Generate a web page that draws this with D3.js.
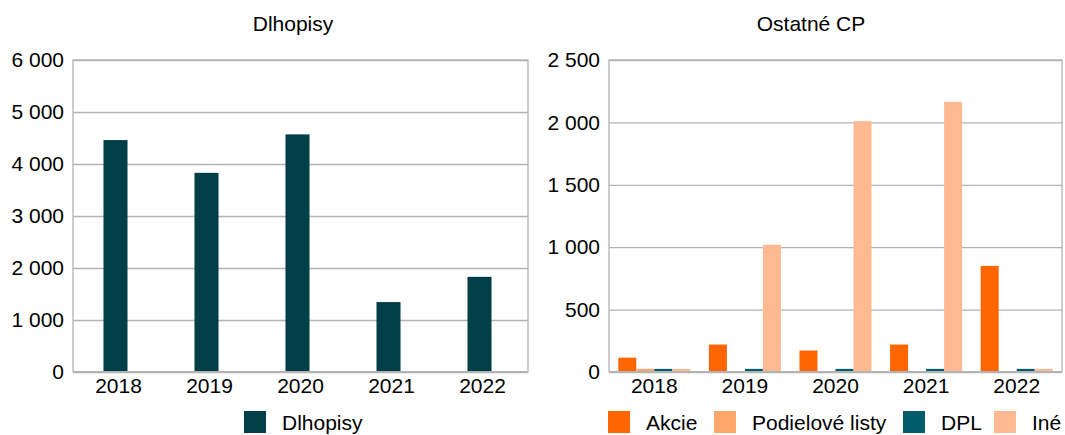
<!DOCTYPE html>
<html>
<head>
<meta charset="utf-8">
<script src="https://cdn.jsdelivr.net/npm/d3@7"></script>
<style>
  body { margin: 0; background: #fff; }
  text { font-family: "Liberation Sans", Arial, sans-serif; fill: #000; }
  .grid line { stroke: #b3b3b3; stroke-width: 1.3; }
  .grid path { display: none; }
  .axis path, .axis line { display: none; }
  .axis text { font-size: 21px; }
</style>
</head>
<body>
<svg id="chart" width="1065" height="435"></svg>
<script>
// data
var years = ["2018", "2019", "2020", "2021", "2022"];
var dlhopisy = [4460, 3830, 4570, 1345, 1830];

var akcie = [115, 220, 172, 220, 850];
var podielove = [25, 0, 0, 0, 0];
var dpl = [25, 25, 25, 25, 25];
var ine = [25, 1020, 2010, 2165, 25];

var leftTicks = [0, 1000, 2000, 3000, 4000, 5000, 6000];
var rightTicks = [0, 500, 1000, 1500, 2000, 2500];

var rightSeries = [
  { name: "Akcie", values: akcie, color: "#ff6600" },
  { name: "Podielové listy", values: podielove, color: "#ffa66a" },
  { name: "DPL", values: dpl, color: "#005b6b" },
  { name: "Iné", values: ine, color: "#ffb990" }
];

var locale = d3.formatLocale({ decimal: ",", thousands: " ", grouping: [3], currency: ["", ""] });
var fmt = locale.format(",");

var svg = d3.select("#chart");

// draws the frame, grid and y axis of one panel
function drawFrame(g, w, h, y, ticks) {
  g.append("g")
    .attr("class", "grid")
    .call(d3.axisLeft(y).tickValues(ticks).tickSize(-w).tickFormat(""));

  g.append("rect")
    .attr("width", w)
    .attr("height", h)
    .attr("fill", "none")
    .attr("stroke", "#b3b3b3")
    .attr("stroke-width", 1.3);

  g.append("g")
    .attr("class", "axis")
    .call(d3.axisLeft(y).tickValues(ticks).tickSize(0).tickPadding(9).tickFormat(fmt));
}

// ---- left panel: Dlhopisy
var lm = { left: 73, top: 60 };
var lw = 455, lh = 312;
var left = svg.append("g").attr("transform", `translate(${lm.left}, ${lm.top})`);

var xL = d3.scaleBand().domain(years).range([0, lw]).paddingInner(0.736).paddingOuter(0.368);
var yL = d3.scaleLinear().domain([0, 6000]).range([lh, 0]);

drawFrame(left, lw, lh, yL, leftTicks);

left.selectAll(".bar")
  .data(dlhopisy)
  .enter()
  .append("rect")
  .attr("class", "bar")
  .attr("x", (d, i) => xL(years[i]) - 3)
  .attr("y", d => yL(d))
  .attr("width", xL.bandwidth())
  .attr("height", d => lh - yL(d))
  .attr("fill", "#003f47");

left.append("g")
  .attr("class", "axis")
  .attr("transform", `translate(0, ${lh})`)
  .call(d3.axisBottom(xL).tickSize(0).tickPadding(6));

left.append("path")
  .attr("d", `M0,${lh}H${lw}`)
  .attr("stroke", "#b3b3b3")
  .attr("stroke-width", 2);

svg.append("text")
  .attr("x", 293)
  .attr("y", 31)
  .attr("text-anchor", "middle")
  .style("font-size", "21px")
  .text("Dlhopisy");

var legL = svg.append("g").attr("transform", "translate(244, 411)");
legL.append("rect").attr("width", 22).attr("height", 22).attr("fill", "#003f47");
legL.append("text").attr("x", 38).attr("y", 19).style("font-size", "21px").text("Dlhopisy");

// ---- right panel: Ostatné CP
var rm = { left: 609, top: 60 };
var rw = 453, rh = 312;
var right = svg.append("g").attr("transform", `translate(${rm.left}, ${rm.top})`);

var xR = d3.scaleBand().domain(years).range([0, rw]).paddingInner(0.205).paddingOuter(0.1025);
var xS = d3.scaleBand().domain(rightSeries.map(s => s.name)).range([0, xR.bandwidth()]);
var yR = d3.scaleLinear().domain([0, 2500]).range([rh, 0]);

drawFrame(right, rw, rh, yR, rightTicks);

var groups = right.selectAll(".year")
  .data(years)
  .enter()
  .append("g")
  .attr("class", "year")
  .attr("transform", d => `translate(${xR(d)}, 0)`);

groups.selectAll("rect")
  .data((yr, i) => rightSeries.map(s => ({ name: s.name, color: s.color, value: s.values[i] })))
  .enter()
  .append("rect")
  .attr("x", d => xS(d.name))
  .attr("y", d => yR(d.value))
  .attr("width", xS.bandwidth())
  .attr("height", d => rh - yR(d.value))
  .attr("fill", d => d.color);

right.append("g")
  .attr("class", "axis")
  .attr("transform", `translate(0, ${rh})`)
  .call(d3.axisBottom(xR).tickSize(0).tickPadding(6));

right.append("path")
  .attr("d", `M0,${rh}H${rw}`)
  .attr("stroke", "#b3b3b3")
  .attr("stroke-width", 2);

svg.append("text")
  .attr("x", 811)
  .attr("y", 31)
  .attr("text-anchor", "middle")
  .style("font-size", "21px")
  .text("Ostatné CP");

// legend positions
var legX = [608, 714, 903, 994];
var legR = svg.selectAll(".leg")
  .data(rightSeries)
  .enter()
  .append("g")
  .attr("class", "leg")
  .attr("transform", (d, i) => `translate(${legX[i]}, 411)`);

legR.append("rect").attr("width", 22).attr("height", 22).attr("fill", d => d.color);
legR.append("text").attr("x", 38).attr("y", 19).style("font-size", "21px").text(d => d.name);
</script>
</body>
</html>
